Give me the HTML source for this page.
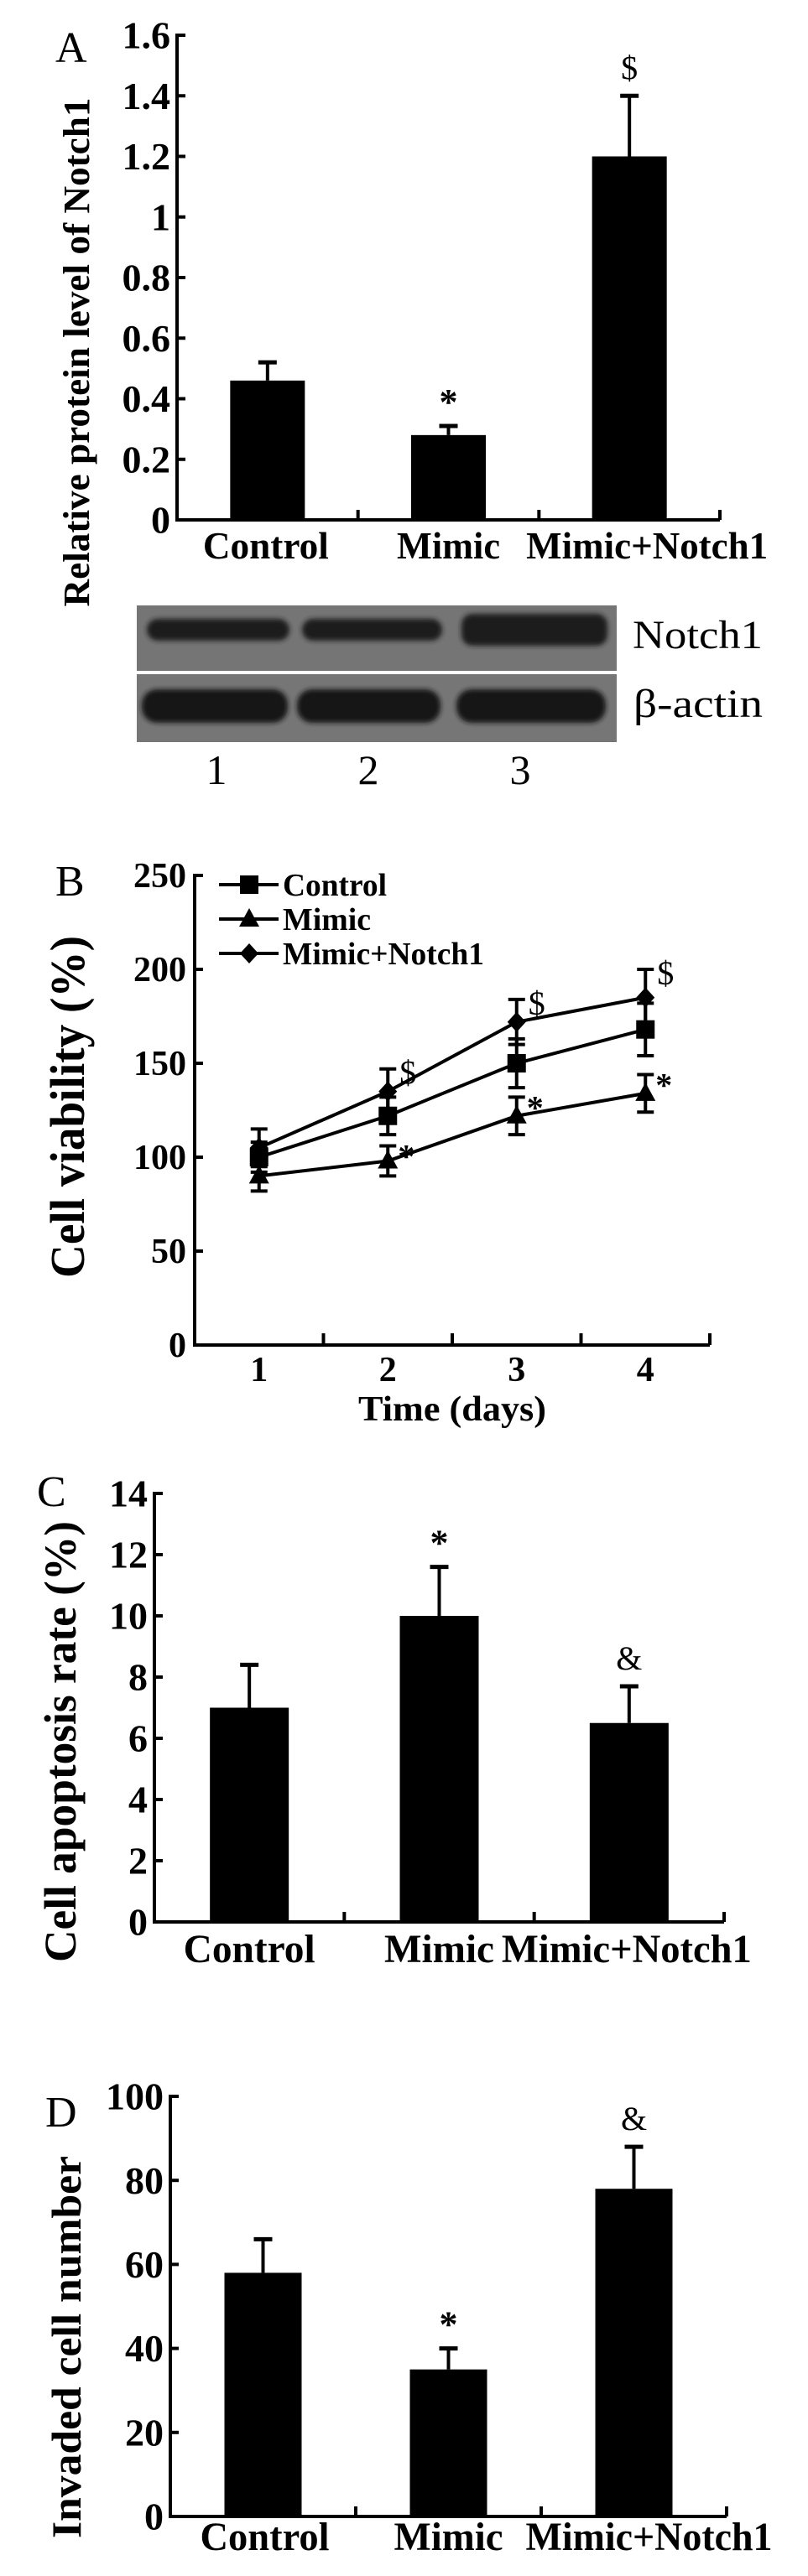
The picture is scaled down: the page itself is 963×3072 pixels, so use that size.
<!DOCTYPE html>
<html><head><meta charset="utf-8"><style>
html,body{margin:0;padding:0;background:#fff;}
svg{display:block;}
text{font-family:"Liberation Serif",serif;fill:#000;}
</style></head><body>
<svg id="fig" width="963" height="3072" viewBox="0 0 963 3072" xmlns="http://www.w3.org/2000/svg">
<defs><filter id="blur" x="-10%" y="-50%" width="120%" height="200%"><feGaussianBlur stdDeviation="3"/></filter></defs>
</svg>
<script>
// Panel A data
const aCategories = ["Control", "Mimic", "Mimic+Notch1"];
const aValues = [0.46, 0.28, 1.2];
const aErrors = [0.06, 0.03, 0.2];
const aMarks = ["", "*", "$"];
const aTicks = ["0", "0.2", "0.4", "0.6", "0.8", "1", "1.2", "1.4", "1.6"];
const aTickValues = [0, 0.2, 0.4, 0.6, 0.8, 1, 1.2, 1.4, 1.6];
// Panel B data
const bDays = ["1", "2", "3", "4"];
const bControl = [100, 122, 150, 168];
const bControlErr = [8, 10, 13, 14];
const bMimic = [90, 98, 122, 134];
const bMimicErr = [8, 8, 10, 10];
const bMimicNotch = [105, 135, 172, 185];
const bMimicNotchErr = [10, 12, 12, 15];
const bTickValues = [0, 50, 100, 150, 200, 250];
// Panel C data
const cCategories = ["Control", "Mimic", "Mimic+Notch1"];
const cValues = [7, 10, 6.5];
const cErrors = [1.4, 1.6, 1.2];
const cMarks = ["", "*", "&"];
const cTickValues = [0, 2, 4, 6, 8, 10, 12, 14];
// Panel D data
const dCategories = ["Control", "Mimic", "Mimic+Notch1"];
const dValues = [58, 35, 78];
const dErrors = [8, 5, 10];
const dMarks = ["", "*", "&"];
const dTickValues = [0, 20, 40, 60, 80, 100];

const svg = document.getElementById('fig');
const NS = 'http://www.w3.org/2000/svg';
function mk(tag, attrs, parent) {
  const e = document.createElementNS(NS, tag);
  for (const k in attrs) e.setAttribute(k, attrs[k]);
  (parent || svg).appendChild(e);
  return e;
}
function txt(s, x, y, size, opts) {
  opts = opts || {};
  const t = mk('text', {x: x, y: y, 'font-size': size, 'text-anchor': opts.anchor || 'middle'});
  if (opts.bold !== false) t.setAttribute('font-weight', 'bold');
  if (opts.len) { t.setAttribute('textLength', opts.len); t.setAttribute('lengthAdjust', 'spacingAndGlyphs'); }
  if (opts.rot) t.setAttribute('transform', 'rotate(-90 ' + x + ' ' + y + ')');
  t.textContent = s;
  return t;
}

function barChart(cfg, cats, vals, errs, marks, ticks, tickLabels) {
  const y = v => cfg.y0 - (v - ticks[0]) / (ticks[ticks.length - 1] - ticks[0]) * (cfg.y0 - cfg.yTop);
  const g = mk('g', {});
  
  
  const ax = mk('path', {d: 'M' + cfg.x0 + ' ' + (cfg.yTop - 2) + 'V' + cfg.y0 + 'H' + cfg.x1, stroke: '#000', 'stroke-width': 4, fill: 'none'}, g);
  
  
  const n = cats.length, bw = (cfg.x1 - cfg.x0) / n;
  ticks.forEach((v, i) => {
    mk('line', {x1: cfg.x0, x2: cfg.x0 + 10, y1: y(v), y2: y(v), stroke: '#000', 'stroke-width': 4}, g);
    const t = txt(tickLabels[i], cfg.x0 - 8, y(v) + cfg.tickFs * 0.34, cfg.tickFs, {anchor: 'end'});
    
    
    g.appendChild(t);
  });
  for (let i = 1; i <= n; i++) {
    mk('line', {x1: cfg.x0 + bw * i, x2: cfg.x0 + bw * i, y1: cfg.y0, y2: cfg.y0 - 12, stroke: '#000', 'stroke-width': 4}, g);
  }
  cats.forEach((c, i) => {
    const cx = cfg.x0 + bw * (i + 0.5);
    const yt = y(vals[i] + errs[i]);
    const el = mk('line', {x1: cx, x2: cx, y1: y(vals[i]), y2: yt, stroke: '#000', 'stroke-width': 4}, g);
    
    
    mk('line', {x1: cx - 11, x2: cx + 11, y1: yt, y2: yt, stroke: '#000', 'stroke-width': 5}, g);
    const r = mk('rect', {x: cx - cfg.barW / 2, y: y(vals[i]), width: cfg.barW, height: cfg.y0 - y(vals[i]), fill: '#000'}, g);
    
    
    const lab = txt(c, cx + (cfg.labOff ? cfg.labOff[i] : 0), cfg.labY, cfg.labFs, {len: cfg.labLen[i]});
    
    
    g.appendChild(lab);
    if (marks[i]) {
      const m = txt(marks[i], cx, yt - (marks[i] === '*' ? 14 : 20), marks[i] === '*' ? 44 : 40, {bold: marks[i] === '*'});
      
      
      g.appendChild(m);
    }
  });
  const title = txt(cfg.title, cfg.titleX, cfg.titleY, cfg.titleFs, {rot: true, len: cfg.titleLen});
  
  
  g.appendChild(title);
  const pl = txt(cfg.letter, cfg.letterX, cfg.letterY, 52, {bold: false, anchor: 'start'});
  
  
  g.appendChild(pl);
}

// Panel A
barChart({name: 'panel-a-chart', x0: 211, x1: 858, y0: 620, yTop: 42, barW: 89, tickFs: 46, labFs: 46, labY: 666,
  labLen: [150, 123, 288], labOff: [-2, 0, 21], title: 'Relative protein level of Notch1', titleX: 106, titleY: 420, titleFs: 44, titleLen: 607,
  letter: 'A', letterX: 66, letterY: 74},
  aCategories, aValues, aErrors, aMarks, aTickValues, aTicks);

// Western blot
(function () {
  const g = mk('g', {});
  
  
  mk('rect', {x: 163, y: 722, width: 572, height: 78, fill: '#757575'}, g);
  mk('rect', {x: 163, y: 804, width: 572, height: 81, fill: '#767676'}, g);
  const lanesX = [[175, 345], [360, 527], [550, 724]];
  const notchH = [26, 26, 38];
  lanesX.forEach((l, i) => {
    const b = mk('rect', {x: l[0], y: 751 - notchH[i] / 2, width: l[1] - l[0], height: notchH[i], rx: 13, fill: '#1e1e1e', filter: 'url(#blur)'}, g);
    
    
    const c = mk('rect', {x: l[0] - 6, y: 822, width: l[1] - l[0] + 4, height: 40, rx: 18, fill: '#181818', filter: 'url(#blur)'}, g);
    
    
  });
  const n1 = txt('Notch1', 754, 773, 48, {bold: false, anchor: 'start', len: 155});
  
  
  const ba = txt('β-actin', 755, 855, 48, {bold: false, anchor: 'start', len: 154});
  
  
  ['1', '2', '3'].forEach((s, i) => {
    const t = txt(s, [258, 439, 620][i], 935, 50, {bold: false});
    
    
  });
})();

// Panel B line chart
(function () {
  const x0 = 232, x1 = 846, y0 = 1604, yTop = 1044;
  const y = v => y0 - v / 250 * (y0 - yTop);
  const bw = (x1 - x0) / bDays.length;
  const x = i => x0 + bw * (i + 0.5);
  const g = mk('g', {});
  
  
  mk('path', {d: 'M' + x0 + ' ' + (yTop - 2) + 'V' + y0 + 'H' + x1, stroke: '#000', 'stroke-width': 4, fill: 'none'}, g);
  bTickValues.forEach(v => {
    mk('line', {x1: x0, x2: x0 + 10, y1: y(v), y2: y(v), stroke: '#000', 'stroke-width': 4}, g);
    const t = txt(String(v), x0 - 10, y(v) + 14, 42, {anchor: 'end'});
    
    
  });
  bDays.forEach((d, i) => {
    mk('line', {x1: x0 + bw * (i + 1), x2: x0 + bw * (i + 1), y1: y0, y2: y0 - 14, stroke: '#000', 'stroke-width': 4}, g);
    const t = txt(d, x(i), 1647, 42);
    
    
  });
  const xt = txt('Time (days)', 539, 1694, 42, {len: 224});
  
  
  const yt = txt('Cell viability (%)', 100, 1320, 58, {rot: true, len: 408});
  
  
  const pl = txt('B', 66, 1068, 52, {bold: false, anchor: 'start'});
  
  

  function marker(type, cx, cy, parent) {
    if (type === 'square') return mk('rect', {x: cx - 11, y: cy - 11, width: 22, height: 22, fill: '#000'}, parent);
    if (type === 'triangle') return mk('path', {d: 'M' + cx + ' ' + (cy - 13) + 'L' + (cx + 12) + ' ' + (cy + 9) + 'L' + (cx - 12) + ' ' + (cy + 9) + 'Z', fill: '#000'}, parent);
    return mk('path', {d: 'M' + cx + ' ' + (cy - 12) + 'L' + (cx + 11) + ' ' + cy + 'L' + cx + ' ' + (cy + 12) + 'L' + (cx - 11) + ' ' + cy + 'Z', fill: '#000'}, parent);
  }
  const series = [
    {name: 'Control', vals: bControl, errs: bControlErr, m: 'square'},
    {name: 'Mimic', vals: bMimic, errs: bMimicErr, m: 'triangle'},
    {name: 'Mimic+Notch1', vals: bMimicNotch, errs: bMimicNotchErr, m: 'diamond'}
  ];
  series.forEach(s => {
    const sg = mk('g', {}, g);
    
    
    const line = mk('polyline', {points: s.vals.map((v, i) => x(i) + ',' + y(v)).join(' '), fill: 'none', stroke: '#000', 'stroke-width': 4}, sg);
    
    
    s.vals.forEach((v, i) => {
      const eb = mk('path', {d: 'M' + x(i) + ' ' + y(v - s.errs[i]) + 'V' + y(v + s.errs[i]) + 'M' + (x(i) - 10) + ' ' + y(v - s.errs[i]) + 'h20M' + (x(i) - 10) + ' ' + y(v + s.errs[i]) + 'h20', stroke: '#000', 'stroke-width': 4, fill: 'none'}, sg);
      
      
      const mm = marker(s.m, x(i), y(v), sg);
      
      
    });
  });
  [1, 2, 3].forEach(i => {
    const d = txt('$', x(i) + 24, y(bMimicNotch[i] + bMimicNotchErr[i]) + 18, 40, {bold: false});
    
    
    const st = txt('*', x(i) + 22, y(bMimic[i] + bMimicErr[i]) + 26, 40);
    
    
  });
  const lg = mk('g', {}, g);
  
  
  const ly = [1055, 1096, 1137];
  series.forEach((s, i) => {
    const eg = mk('g', {}, lg);
    
    
    mk('line', {x1: 261, x2: 332, y1: ly[i], y2: ly[i], stroke: '#000', 'stroke-width': 4}, eg);
    marker(s.m, 297, ly[i], eg);
    const t = txt(s.name, 337, ly[i] + 13, 38, {anchor: 'start', len: [124, 105, 240][i]});
    eg.appendChild(t);
  });
})();

// Panel C
barChart({name: 'panel-c-chart', x0: 184, x1: 863, y0: 2292, yTop: 1781, barW: 94, tickFs: 46, labFs: 48, labY: 2340,
  labLen: [157, 131, 298], labOff: [0, 0, -3], title: 'Cell apoptosis rate (%)', titleX: 90, titleY: 2077, titleFs: 54, titleLen: 526,
  letter: 'C', letterX: 44, letterY: 1796},
  cCategories, cValues, cErrors, cMarks, cTickValues, cTickValues.map(String));

// Panel D
barChart({name: 'panel-d-chart', x0: 203, x1: 866, y0: 3001, yTop: 2500, barW: 92, tickFs: 46, labFs: 48, labY: 3041,
  labLen: [154, 130, 294], labOff: [2, 0, 18], title: 'Invaded cell number', titleX: 96, titleY: 2799, titleFs: 50, titleLen: 456,
  letter: 'D', letterX: 54, letterY: 2536},
  dCategories, dValues, dErrors, dMarks, dTickValues, dTickValues.map(String));
</script>
</body></html>
